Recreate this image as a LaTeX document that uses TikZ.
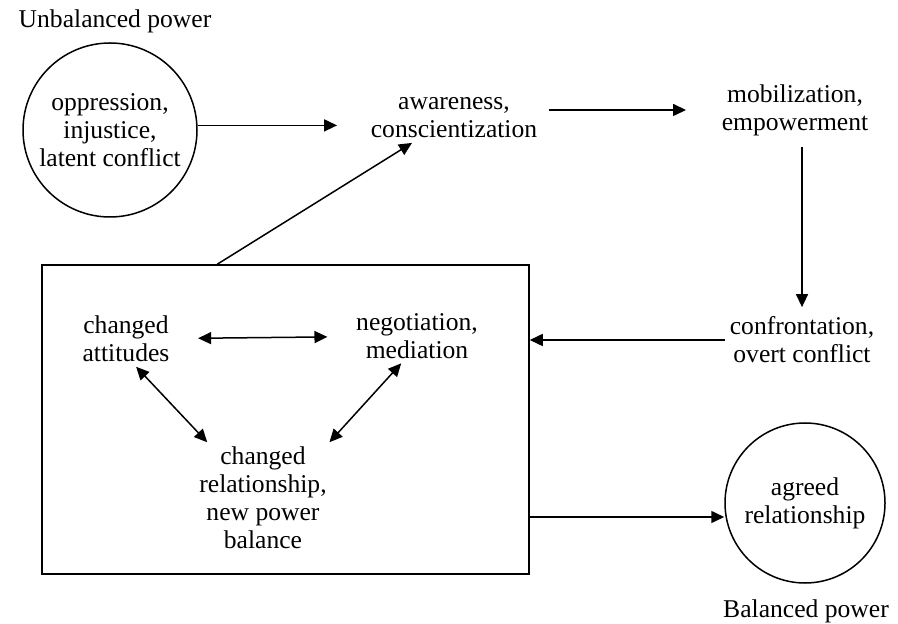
\documentclass[tikz,border=0pt]{standalone}
\usepackage{fontspec}
\setmainfont{Liberation Serif}
\usetikzlibrary{arrows.meta}
\begin{document}
\begin{tikzpicture}[x=0.5pt,y=-0.5pt,line width=0.75pt,
    >={Triangle[length=6.5pt,width=6pt]},
    every node/.style={font=\fontsize{12.8}{14}\selectfont},
    txt/.style={align=center,inner sep=2pt},
    ring/.style={draw,circle,align=center,inner sep=0pt}]
  \useasboundingbox (0,0) rectangle (898,624);
  % the two states of power
  \node[anchor=base] (unbal) at (115,28) {Unbalanced power};
  \node[anchor=base] (bal) at (806,617) {Balanced power};
  \node[ring,minimum size=87pt] (opp) at (110,130)
    {oppression,\\injustice,\\latent conflict};
  \node[ring,minimum size=80pt] (agreed) at (805,503)
    {agreed\\relationship};
  % the cycle
  \node[txt] (aware) at (454,118) {awareness,\\conscientization};
  \node[txt] (mob) at (795,110) {mobilization,\\empowerment};
  \node[txt] (conf) at (802,340) {confrontation,\\overt conflict};
  % the box
  \node[draw,minimum width=243.5pt,minimum height=154.5pt] (frame)
    at (285.5,419.5) {};
  \node[txt] (ca) at (126,339) {changed\\attitudes};
  \node[txt] (neg) at (417,336) {negotiation,\\mediation};
  \node[txt] (rel) at (263,498) {changed\\relationship,\\new power\\balance};
  \coordinate (agin) at ([yshift=-7pt]agreed.west);
  % connectors
  \draw[->,shorten >=14.5pt] (opp.3) -- (opp.3 -| aware.west);
  \draw[->,shorten <=3.5pt,shorten >=15.5pt] (aware.east |- mob) -- (mob);
  \draw[->,shorten <=3.5pt,shorten >=2.5pt] (mob.south -| conf) -- (conf);
  \draw[->] (conf) -- (conf -| frame.east);
  \draw[->] ([xshift=88pt]frame.north west) -- ([xshift=-21pt]aware.south);
  \draw[->] (agin -| frame.east) -- (agin);
  \draw[<->,shorten <=12pt,shorten >=12pt] (ca) -- (neg);
  \draw[<->] (ca.-70) -- (rel.135);
  \draw[<->] (neg.-120) -- (rel.40);
\end{tikzpicture}
\end{document}
